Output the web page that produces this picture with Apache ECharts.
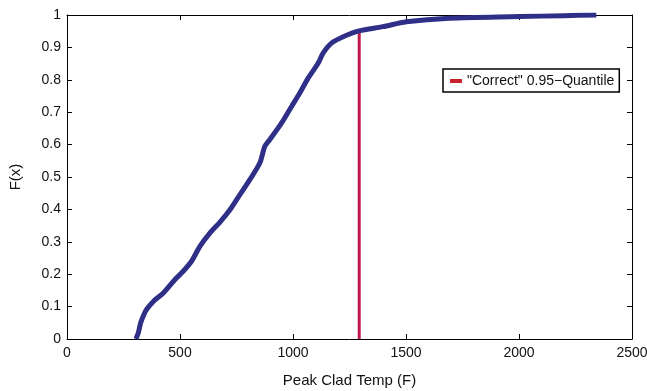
<!DOCTYPE html>
<html>
<head>
<meta charset="utf-8">
<script src="https://cdn.jsdelivr.net/npm/echarts@6/dist/echarts.min.js"></script>
<style>html,body{margin:0;padding:0;background:#fff}#c{width:647px;height:391px}</style>
</head>
<body>
<div id="c"></div>
<script>
// CDF curve (Peak Clad Temp, F(x))
var cdfX = [305, 316, 326, 340, 352, 382, 426, 477, 514, 551, 588, 632, 676, 721, 755, 809, 853, 875, 897, 949, 993, 1030, 1067, 1111, 1133, 1170, 1222, 1292, 1398, 1502, 1693, 2000, 2200, 2342];
var cdfY = [0, 0.02, 0.05, 0.075, 0.091, 0.116, 0.142, 0.183, 0.209, 0.240, 0.286, 0.327, 0.360, 0.399, 0.435, 0.492, 0.543, 0.594, 0.615, 0.666, 0.717, 0.759, 0.805, 0.851, 0.882, 0.913, 0.933, 0.951, 0.964, 0.979, 0.990, 0.995, 0.998, 1.0];
// "Correct" 0.95-quantile vertical line
var quantX = [1293, 1293];
var quantY = [0, 0.951];
var quantName = '"Correct" 0.95\u2212Quantile';
var xTicks = [0, 500, 1000, 1500, 2000, 2500];
var yTicks = [0, 0.1, 0.2, 0.3, 0.4, 0.5, 0.6, 0.7, 0.8, 0.9, 1];

var font = 'Liberation Sans, Arial, Helvetica, sans-serif';
var chart = echarts.init(document.getElementById('c'), null, {renderer: 'canvas'});
function axisCommon(showLabel) {
  return {
    axisLine: {show: true, onZero: false, lineStyle: {color: '#000', width: 1}},
    axisTick: {show: true, inside: true, length: 5, lineStyle: {color: '#000'}},
    splitLine: {show: false},
    axisLabel: {show: showLabel, color: '#111', fontSize: 14, fontFamily: font}
  };
}
var xb = axisCommon(true);
var xt = axisCommon(false);
var yl = axisCommon(true);
var yr = axisCommon(false);
chart.setOption({
  animation: false,
  grid: {left: 67, top: 15, right: 15, bottom: 52, containLabel: false, outerBoundsMode: 'none'},
  legend: {
    show: true,
    data: [{name: quantName, itemStyle: {color: '#c8232c'}}],
    left: 443, top: 69,
    orient: 'vertical',
    backgroundColor: '#fff',
    borderColor: '#000', borderWidth: 1.5,
    padding: [5, 5, 4, 7],
    icon: 'rect', itemWidth: 12, itemHeight: 4, itemGap: 5,
    textStyle: {color: '#111', fontSize: 14, fontFamily: font}
  },
  xAxis: [
    Object.assign({type: 'value', position: 'bottom', min: xTicks[0], max: xTicks[xTicks.length - 1], interval: 500,
      name: 'Peak Clad Temp (F)', nameLocation: 'middle', nameGap: 34,
      nameTextStyle: {color: '#111', fontSize: 15, fontFamily: font}}, xb,
      {axisLabel: Object.assign({}, xb.axisLabel, {margin: 7, formatter: function (v) { return String(v); }})}),
    Object.assign({type: 'value', position: 'top', min: xTicks[0], max: xTicks[xTicks.length - 1], interval: 500}, xt)
  ],
  yAxis: [
    Object.assign({type: 'value', position: 'left', min: yTicks[0], max: yTicks[yTicks.length - 1], interval: 0.1,
      name: 'F(x)', nameLocation: 'middle', nameGap: 44,
      nameTextStyle: {color: '#111', fontSize: 15, fontFamily: font}}, yl,
      {axisLabel: Object.assign({}, yl.axisLabel, {margin: 6, formatter: function (v) { return String(+v.toFixed(1)); }})}),
    Object.assign({type: 'value', position: 'right', min: yTicks[0], max: yTicks[yTicks.length - 1], interval: 0.1}, yr)
  ],
  series: [
    {
      name: 'CDF', type: 'line', xAxisIndex: 0, yAxisIndex: 0,
      data: cdfX.map(function (x, i) { return [x, cdfY[i]]; }),
      showSymbol: false, symbol: 'none', smooth: 0.3,
      lineStyle: {color: '#2f2f88', width: 5},
      itemStyle: {color: '#2f2f88'}
    },
    {
      name: quantName, type: 'line', xAxisIndex: 0, yAxisIndex: 0,
      data: quantX.map(function (x, i) { return [x, quantY[i]]; }),
      showSymbol: false, symbol: 'none',
      lineStyle: {color: '#c0174c', width: 3},
      itemStyle: {color: '#c8232c'}, z: 1
    }
  ]
});
</script>
</body>
</html>
